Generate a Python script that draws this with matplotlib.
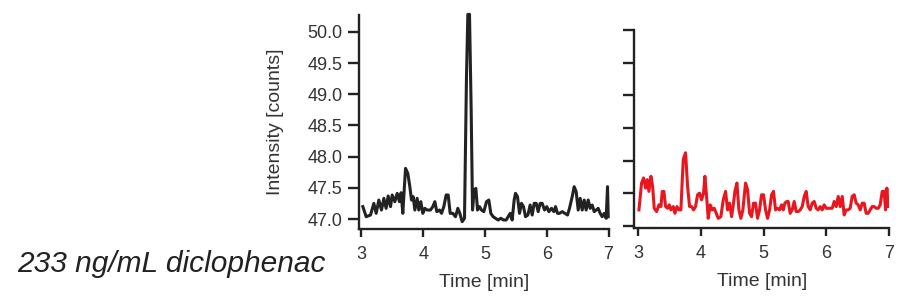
import numpy as np
import matplotlib
matplotlib.use("Agg")
import matplotlib.pyplot as plt

plt.rcParams['font.family'] = ['Liberation Sans', 'DejaVu Sans']

# Chromatogram, left panel (black)
t_black = [3.022, 3.076, 3.146, 3.200, 3.238, 3.281, 3.324, 3.362, 3.399, 3.432,
           3.470, 3.497, 3.540, 3.578, 3.615, 3.642, 3.669, 3.713, 3.750, 3.783,
           3.810, 3.837, 3.864, 3.901, 3.928, 3.961, 3.993, 4.026, 4.063, 4.117,
           4.155, 4.188, 4.220, 4.263, 4.296, 4.333, 4.371, 4.404, 4.436, 4.479,
           4.522, 4.560, 4.592, 4.630, 4.668, 4.700, 4.722, 4.749, 4.776, 4.798,
           4.825, 4.852, 4.879, 4.911, 4.943, 4.981, 5.024, 5.062, 5.094, 5.132,
           5.170, 5.213, 5.256, 5.300, 5.343, 5.375, 5.408, 5.440, 5.472, 5.494,
           5.526, 5.559, 5.591, 5.623, 5.656, 5.694, 5.731, 5.764, 5.796, 5.829,
           5.861, 5.893, 5.926, 5.964, 6.001, 6.034, 6.077, 6.115, 6.142, 6.174,
           6.206, 6.250, 6.293, 6.336, 6.368, 6.412, 6.444, 6.476, 6.509, 6.541,
           6.574, 6.606, 6.638, 6.671, 6.703, 6.736, 6.768, 6.800, 6.833, 6.865,
           6.897, 6.930, 6.962, 6.984, 6.995]
i_black = [47.198, 47.037, 47.064, 47.251, 47.091, 47.304, 47.144, 47.331, 47.171, 47.369,
           47.198, 47.385, 47.278, 47.411, 47.278, 47.422, 47.091, 47.812, 47.732, 47.518,
           47.304, 47.358, 47.144, 47.331, 47.144, 47.278, 47.091, 47.171, 47.144, 47.144,
           47.198, 47.278, 47.118, 47.144, 47.091, 47.198, 47.385, 47.385, 47.091, 47.091,
           47.037, 47.171, 47.091, 46.957, 47.011, 49.281, 50.280, 50.280, 48.747, 47.144,
           47.465, 47.491, 47.144, 47.198, 47.144, 47.118, 47.278, 47.304, 47.091, 47.037,
           47.011, 46.984, 47.011, 46.984, 46.984, 47.037, 47.091, 46.984, 47.304, 47.411,
           47.358, 47.091, 47.251, 47.198, 47.037, 47.064, 47.224, 47.064, 47.251, 47.251,
           47.118, 47.251, 47.251, 47.144, 47.198, 47.118, 47.171, 47.118, 47.198, 47.091,
           47.091, 47.118, 47.091, 47.064, 47.171, 47.358, 47.518, 47.438, 47.144, 47.331,
           47.144, 47.304, 47.144, 47.304, 47.171, 47.224, 47.118, 47.144, 47.171, 47.091,
           47.037, 47.091, 47.011, 47.518, 47.037]

# Chromatogram, right panel (red)
t_red = [3.011, 3.053, 3.085, 3.117, 3.144, 3.170, 3.202, 3.229, 3.255, 3.292,
         3.330, 3.362, 3.383, 3.409, 3.436, 3.468, 3.494, 3.521, 3.558, 3.585,
         3.617, 3.649, 3.680, 3.718, 3.755, 3.787, 3.819, 3.851, 3.883, 3.914,
         3.946, 3.978, 4.010, 4.042, 4.063, 4.090, 4.116, 4.148, 4.180, 4.212,
         4.244, 4.276, 4.318, 4.356, 4.393, 4.425, 4.457, 4.489, 4.520, 4.542,
         4.574, 4.606, 4.637, 4.669, 4.712, 4.744, 4.776, 4.808, 4.839, 4.871,
         4.903, 4.935, 4.967, 4.999, 5.031, 5.063, 5.095, 5.127, 5.158, 5.190,
         5.222, 5.254, 5.286, 5.313, 5.339, 5.371, 5.392, 5.424, 5.456, 5.488,
         5.520, 5.552, 5.584, 5.616, 5.648, 5.679, 5.711, 5.743, 5.775, 5.807,
         5.839, 5.871, 5.903, 5.935, 5.966, 5.998, 6.030, 6.062, 6.094, 6.126,
         6.158, 6.190, 6.222, 6.254, 6.285, 6.317, 6.349, 6.381, 6.413, 6.445,
         6.477, 6.509, 6.541, 6.573, 6.604, 6.636, 6.668, 6.700, 6.732, 6.764,
         6.796, 6.828, 6.860, 6.892, 6.923, 6.945, 6.966, 6.987]
i_red = [47.247, 47.658, 47.736, 47.581, 47.710, 47.530, 47.761, 47.607, 47.272, 47.221,
         47.324, 47.298, 47.530, 47.530, 47.298, 47.272, 47.324, 47.247, 47.298, 47.195,
         47.298, 47.247, 47.247, 48.019, 48.121, 47.607, 47.298, 47.298, 47.247, 47.298,
         47.478, 47.504, 47.401, 47.504, 47.761, 47.453, 47.118, 47.324, 47.247, 47.272,
         47.195, 47.118, 47.144, 47.401, 47.530, 47.247, 47.350, 47.144, 47.350, 47.530,
         47.658, 47.247, 47.118, 47.247, 47.658, 47.556, 47.195, 47.144, 47.350, 47.350,
         47.118, 47.247, 47.478, 47.478, 47.247, 47.118, 47.247, 47.478, 47.530, 47.247,
         47.272, 47.247, 47.324, 47.247, 47.350, 47.376, 47.376, 47.195, 47.247, 47.376,
         47.221, 47.221, 47.247, 47.298, 47.453, 47.530, 47.298, 47.247, 47.350, 47.376,
         47.272, 47.247, 47.298, 47.247, 47.324, 47.272, 47.272, 47.272, 47.272, 47.376,
         47.298, 47.453, 47.298, 47.453, 47.170, 47.247, 47.247, 47.272, 47.453, 47.478,
         47.350, 47.324, 47.247, 47.350, 47.350, 47.195, 47.195, 47.247, 47.298, 47.298,
         47.272, 47.272, 47.324, 47.530, 47.530, 47.247, 47.581, 47.298]

x_ticks = [3, 4, 5, 6, 7]
y_ticks = [47.0, 47.5, 48.0, 48.5, 49.0, 49.5, 50.0]
label_text = "233 ng/mL diclophenac"

fig = plt.figure(figsize=(9.05, 3.0), dpi=100)
ax1 = fig.add_axes([0.3967, 0.2367, 0.2757, 0.7133])
ax2 = fig.add_axes([0.7011, 0.24, 0.2812, 0.66])

ax1.plot(t_black, i_black, color='#222222', lw=2.2, clip_on=False)
ax2.plot(t_red, i_red, color='#e8161e', lw=2.2)

ax1.set_xlim(2.96, 7.0)
ax1.set_ylim(46.84, 50.27)
ax2.set_xlim(2.94, 7.0)
ax2.set_ylim(46.97, 50.0)

for ax in (ax1, ax2):
    ax.spines['top'].set_visible(False)
    ax.spines['right'].set_visible(False)
    ax.spines['left'].set_linewidth(1.7)
    ax.spines['bottom'].set_linewidth(1.7)
    ax.spines['left'].set_color('#222222')
    ax.spines['bottom'].set_color('#222222')
    ax.set_xticks(x_ticks)
    ax.set_yticks(y_ticks)
    ax.tick_params(direction='out', width=1.7, color='#222222',
                   labelsize=13, labelcolor='#333333')
    ax.tick_params(axis='x', length=6, pad=6)
    ax.tick_params(axis='y', length=8, pad=4)
    ax.set_xlabel('Time [min]', fontsize=14, color='#333333', labelpad=8)

ax1.set_yticklabels([f"{v:.1f}" for v in y_ticks])
ax2.set_yticklabels([])
ax1.set_ylabel('Intensity [counts]', fontsize=14, color='#333333', labelpad=17)

fig.text(0.019, 0.094, label_text, fontsize=21.5, style='italic', color='#222222',
         ha='left', va='baseline')

fig.savefig('out.png', dpi=100)
